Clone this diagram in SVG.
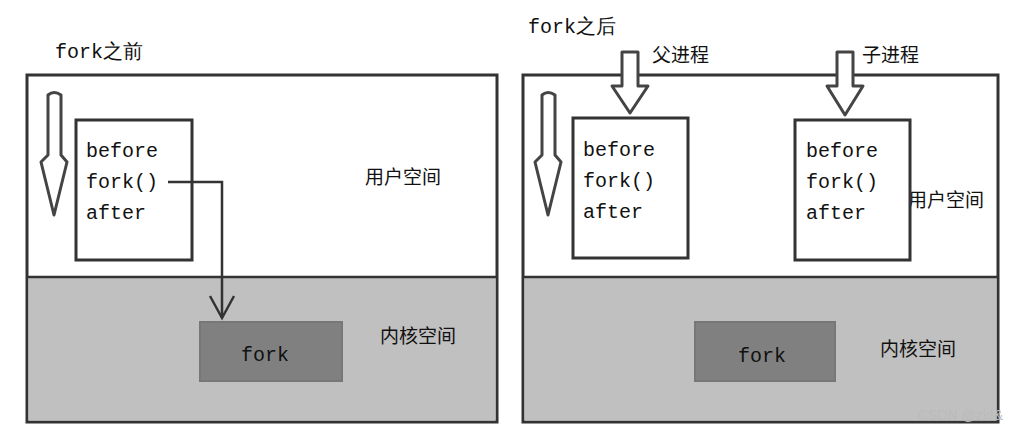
<svg xmlns="http://www.w3.org/2000/svg" width="1027" height="435" viewBox="0 0 1027 435">
<style>
.panel{fill:#fff;stroke:#333;stroke-width:3}
.kern{fill:#c0c0c0;stroke:none}
.code{fill:#fff;stroke:#333;stroke-width:3}
.fbox{fill:#808080;stroke:#777;stroke-width:2}
.mono{font-family:"Liberation Mono","DejaVu Sans Mono",monospace;font-size:20px;fill:#111}
.cjk{font-family:"Noto Sans CJK SC",sans-serif;font-size:19px;fill:#111}
.arr{fill:#fff;stroke:#444;stroke-width:3;stroke-linejoin:round}
.con{fill:none;stroke:#333;stroke-width:2.5}
</style>
<rect width="1027" height="435" fill="#fff"/>
<text class="mono" x="55" y="58">fork之前</text>
<text class="mono" x="528" y="33">fork之后</text>
<g id="left-panel">
<rect class="panel" x="27" y="75" width="470" height="347"/>
<rect class="kern" x="28.5" y="277" width="467" height="143.5"/>
<line x1="27" y1="277" x2="497" y2="277" stroke="#333" stroke-width="2.5"/>
<text class="cjk" x="365" y="184">用户空间</text>
<text class="cjk" x="380" y="343">内核空间</text>
</g>
<g id="left-arrow"><path class="arr" d="M48,95 Q54,90 61,95 L61,155 L67,162 L54,215 L41,162 L48,155 Z"/></g>
<g id="left-code"><rect class="code" x="76" y="120" width="116" height="140"/>
<text class="mono" x="86" y="157">before</text><text class="mono" x="86" y="188">fork()</text><text class="mono" x="86" y="219">after</text></g>
<g id="left-fork"><rect class="fbox" x="200" y="322" width="142" height="59"/><text class="mono" x="241" y="361">fork</text></g>
<g id="right-panel">
<rect class="panel" x="523" y="75" width="475" height="347"/>
<rect class="kern" x="524.5" y="277" width="472" height="143.5"/>
<line x1="523" y1="277" x2="998" y2="277" stroke="#333" stroke-width="2.5"/>
<text class="cjk" x="908" y="207">用户空间</text>
<text class="cjk" x="880" y="356">内核空间</text>
<text class="cjk" x="652" y="62">父进程</text>
<text class="cjk" x="862" y="62">子进程</text>
</g>
<g id="right-arrow"><path class="arr" d="M542,95 Q548,90 555,95 L555,155 L561,162 L548,215 L535,162 L542,155 Z"/></g>
<g id="parent-arrow"><path class="arr" d="M622,52 L638,52 L638,86 L648,86 L630,113 L612,86 L622,86 Z"/></g>
<g id="child-arrow"><path class="arr" d="M837,52 L853,52 L853,86 L863,86 L845,115 L827,86 L837,86 Z"/></g>
<g id="parent-code"><rect class="code" x="573" y="118" width="115" height="140"/>
<text class="mono" x="583" y="156">before</text><text class="mono" x="583" y="187">fork()</text><text class="mono" x="583" y="218">after</text></g>
<g id="child-code"><rect class="code" x="795" y="120" width="115" height="140"/>
<text class="mono" x="806" y="157">before</text><text class="mono" x="806" y="188">fork()</text><text class="mono" x="806" y="219">after</text></g>
<g id="right-fork"><rect class="fbox" x="695" y="322" width="140" height="59"/><text class="mono" x="738" y="362">fork</text></g>
<g id="connectors">
<polyline class="con" points="168,182 222,182 222,318"/>
<polyline class="con" points="210,296 222,318 234,296"/>
</g>
<text x="918" y="420" style="font-family:'Liberation Sans',sans-serif;font-size:14px;fill:#bbb">CSDN @zkf&amp;</text>
</svg>
